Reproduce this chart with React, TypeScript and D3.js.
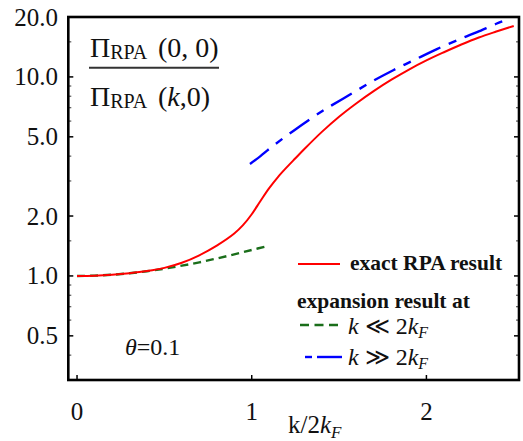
import React from "react";
import * as d3 from "d3";

// exact RPA result (red)
const exactK = [0, 0.1, 0.2, 0.3, 0.4, 0.5, 0.6, 0.7, 0.8, 0.9, 0.95, 1.0, 1.05, 1.1, 1.15, 1.2, 1.25, 1.3, 1.4, 1.5, 1.6, 1.7, 1.8, 1.9, 2.0, 2.1, 2.2, 2.3, 2.4, 2.5];
const exactV = [1.0, 1.0035, 1.014, 1.032, 1.058, 1.098, 1.165, 1.27, 1.42, 1.633, 1.799, 2.042, 2.38, 2.76, 3.14, 3.51, 3.9, 4.33, 5.28, 6.31, 7.379, 8.511, 9.683, 10.89, 12.1, 13.3, 14.55, 15.78, 16.9, 18.03];

// small-k expansion (green dashed)
const smallK = [0, 0.1, 0.2, 0.3, 0.4, 0.5, 0.6, 0.7, 0.8, 0.9, 1.0, 1.085];
const smallV = [1.0, 1.0035, 1.014, 1.0315, 1.056, 1.0875, 1.126, 1.17, 1.224, 1.284, 1.35, 1.41];

// large-k expansion (blue dash-dot)
const largeK = [0.99, 1.05, 1.1, 1.24, 1.4, 1.52, 1.7, 1.81, 1.95, 2.06, 2.2, 2.29, 2.4, 2.46];
const largeV = [3.65, 4.0, 4.35, 5.37, 6.7, 7.75, 9.6, 10.8, 12.4, 13.8, 15.6, 16.8, 18.5, 19.4];

const yMajor = [0.5, 1, 2, 5, 10, 20];
const yMajorLabels = ["0.5", "1.0", "2.0", "5.0", "10.0", "20.0"];
const yMinor = [0.3, 0.4, 0.6, 0.7, 0.8, 0.9, 1.5, 3, 4, 6, 7, 8, 9, 15];
const xMajor = [0, 1, 2];

const serif = '"Liberation Serif", "Times New Roman", serif';

export default function App() {
  const x = d3.scaleLinear().domain([-0.05, 2.53]).range([68.3, 519]);
  const y = d3.scaleLog().domain([0.3, 20]).range([380, 17]);
  const [x0, x1] = x.range();
  const [y0, y1] = y.range();

  const line = d3
    .line<[number, number]>()
    .x((d) => x(d[0]))
    .y((d) => y(d[1]))
    .curve(d3.curveCatmullRom.alpha(0.5));

  const exact = exactK.map((k, i) => [k, exactV[i]] as [number, number]);
  const small = smallK.map((k, i) => [k, smallV[i]] as [number, number]);
  const large = largeK.map((k, i) => [k, largeV[i]] as [number, number]);

  return (
    <svg
      width={523}
      height={441}
      style={{ position: "absolute", left: 0, top: 0, background: "#fff", fontFamily: serif }}
    >
      <defs>
        <clipPath id="plot">
          <rect x={x0} y={y1} width={x1 - x0} height={y0 - y1} />
        </clipPath>
      </defs>

      {/* curves */}
      <g clipPath="url(#plot)" fill="none">
        <path d={line(small) || ""} stroke="#1a6e1a" strokeWidth={2.4} strokeDasharray="8,5" />
        <path d={line(exact) || ""} stroke="#ff0000" strokeWidth={2} />
        <path d={line(large) || ""} stroke="#0000ff" strokeWidth={2.4} strokeDasharray="24,9,8,9" />
      </g>

      {/* ticks */}
      <g stroke="#000" strokeWidth={1.5}>
        {yMajor.map((v) => (
          <g key={"ym" + v}>
            <line x1={x0} x2={x0 + 5} y1={y(v)} y2={y(v)} />
            <line x1={x1} x2={x1 - 5} y1={y(v)} y2={y(v)} />
          </g>
        ))}
        {yMinor.map((v) => (
          <g key={"yn" + v} strokeWidth={0.8}>
            <line x1={x0} x2={x0 + 3} y1={y(v)} y2={y(v)} />
            <line x1={x1} x2={x1 - 3} y1={y(v)} y2={y(v)} />
          </g>
        ))}
        {xMajor.map((v) => (
          <line key={"xm" + v} x1={x(v)} x2={x(v)} y1={y0} y2={y0 - 5} />
        ))}
      </g>

      {/* frame */}
      <rect x={x0} y={y1} width={x1 - x0} height={y0 - y1} fill="none" stroke="#000" strokeWidth={2.6} />

      {/* tick labels */}
      <g fontSize={25} fill="#111">
        {yMajor.map((v, i) => (
          <text key={"yl" + v} x={58} y={y(v)} dy="0.34em" textAnchor="end">
            {yMajorLabels[i]}
          </text>
        ))}
        {xMajor.map((v) => (
          <text key={"xl" + v} x={x(v)} y={420} textAnchor="middle">
            {v}
          </text>
        ))}
      </g>

      {/* x axis title */}
      <text x={288} y={433} fontSize={25} fill="#111">
        k/2<tspan fontStyle="italic">k</tspan>
        <tspan fontStyle="italic" fontSize={17} dy={5}>F</tspan>
      </text>

      {/* y title fraction */}
      <g fill="#111">
        <text x={90} y={57} fontSize={28}>
          Π<tspan fontSize={20} dy={2}>RPA</tspan>
        </text>
        <text x={158} y={57} fontSize={28}>(0, 0)</text>
        <line x1={89} x2={219} y1={67.7} y2={67.7} stroke="#333" strokeWidth={2} />
        <text x={90} y={106} fontSize={28}>
          Π<tspan fontSize={20} dy={2}>RPA</tspan>
        </text>
        <text x={158} y={106} fontSize={28}>
          (<tspan fontStyle="italic">k</tspan>,0)
        </text>
      </g>

      {/* theta */}
      <text x={125} y={355} fontSize={24} fill="#111">
        <tspan fontStyle="italic">θ</tspan>=0.1
      </text>

      {/* legend */}
      <g>
        <line x1={298} x2={340} y1={264} y2={264} stroke="#ff0000" strokeWidth={2} />
        <text x={350} y={270} fontSize={21.5} fontWeight="bold" fill="#111">exact RPA result</text>
        <text x={297} y={308} fontSize={21.5} fontWeight="bold" fill="#111">expansion result at</text>
        <line x1={300} x2={342} y1={325} y2={325} stroke="#1a6e1a" strokeWidth={2.4} strokeDasharray="9,5.5" />
        <text x={348} y={334} fontSize={24} fill="#111">
          <tspan fontStyle="italic">k</tspan> ≪ 2<tspan fontStyle="italic">k</tspan>
          <tspan fontStyle="italic" fontSize={16} dy={4}>F</tspan>
        </text>
        <line x1={305} x2={312} y1={357} y2={357} stroke="#0000ff" strokeWidth={2.4} />
        <line x1={317} x2={342} y1={357} y2={357} stroke="#0000ff" strokeWidth={2.4} />
        <text x={348} y={365} fontSize={24} fill="#111">
          <tspan fontStyle="italic">k</tspan> ≫ 2<tspan fontStyle="italic">k</tspan>
          <tspan fontStyle="italic" fontSize={16} dy={4}>F</tspan>
        </text>
      </g>
    </svg>
  );
}
